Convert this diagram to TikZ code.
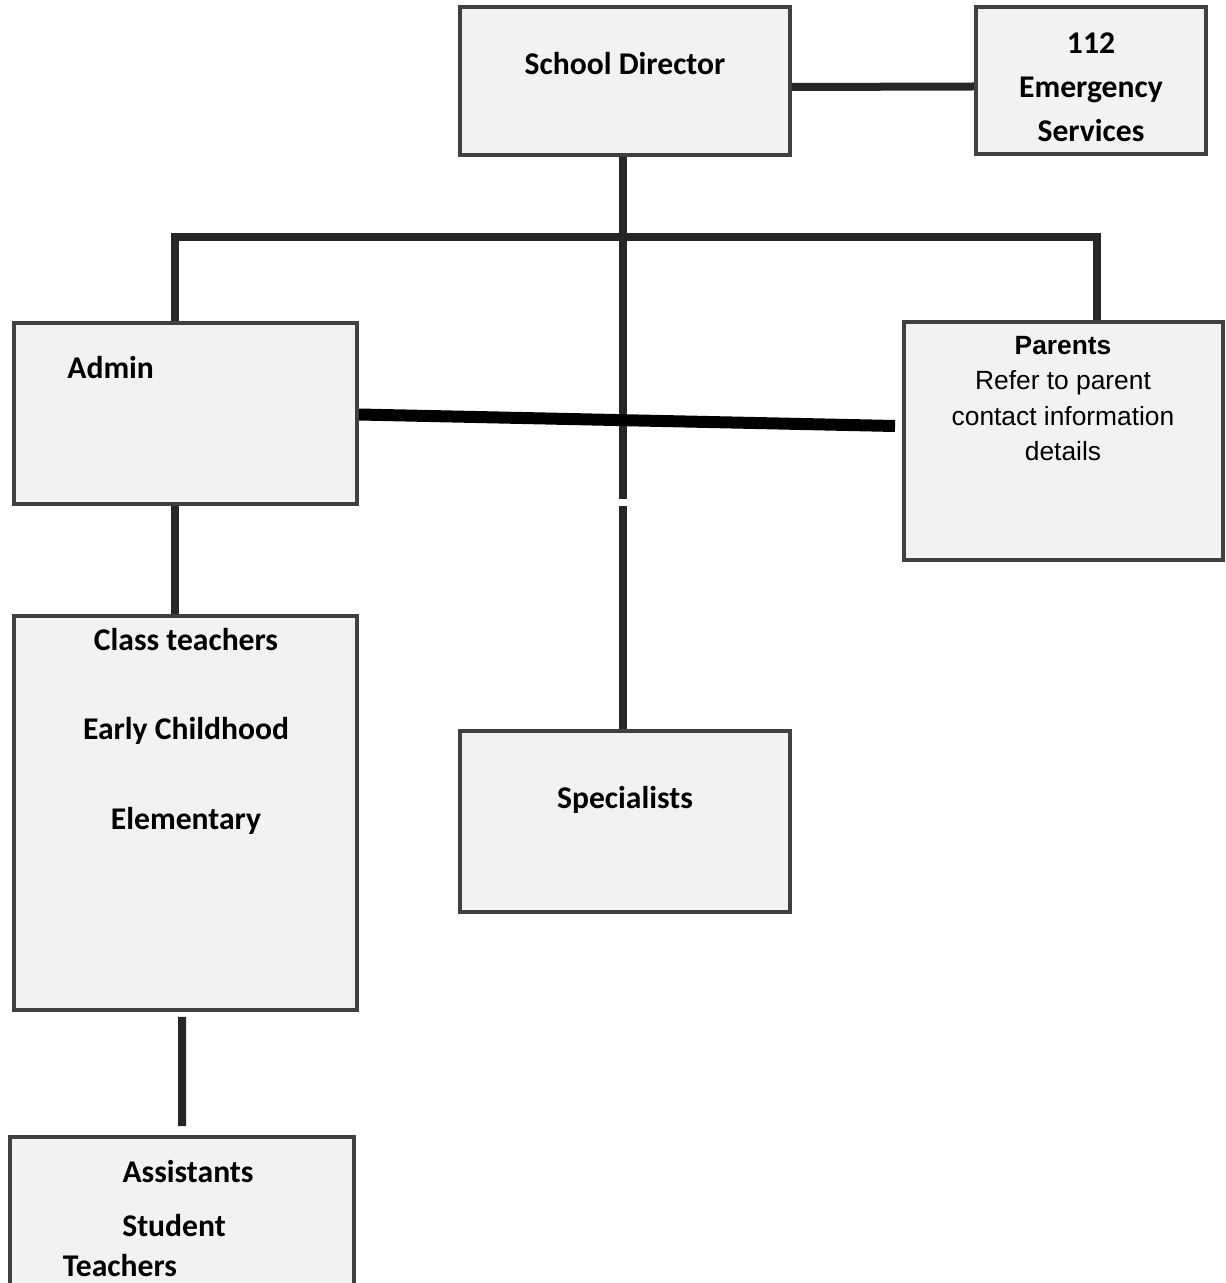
\documentclass[tikz,border=0pt]{standalone}
\usepackage{fontspec}
\setmainfont{Carlito}
\newfontfamily\arialfont{Liberation Sans}
\usepackage{tikz}
\usetikzlibrary{positioning, calc, backgrounds}
\definecolor{boxfill}{HTML}{F2F2F2}
\definecolor{boxline}{HTML}{404040}
\definecolor{linkgray}{HTML}{262626}

\begin{document}
\begin{tikzpicture}[x=0.02cm, y=-0.02cm,
  unit/.style={rectangle, fill=boxfill, draw=boxline, line width=0.08cm,
    inner sep=0pt},
  label/.style={font=\fontsize{18}{25}\selectfont\bfseries, align=center, inner sep=0pt},
  link/.style={draw=linkgray, line width=0.16cm},
  hotline/.style={draw=black, line width=0.24cm}
]
  \useasboundingbox (0,0) rectangle (1225,1283);

  % boxes
  \node[unit, minimum width=6.6cm, minimum height=2.96cm] (dir) at (625,81) {};
  \node[unit, minimum width=4.6cm, minimum height=2.94cm] (emg) at (1091,80.5) {};
  \node[unit, minimum width=6.86cm, minimum height=3.62cm] (adm) at (185.5,413.5) {};
  \node[unit, minimum width=6.38cm, minimum height=4.76cm] (par) at (1063.5,441) {};
  \node[unit, minimum width=6.86cm, minimum height=7.88cm] (cls) at (185.5,813) {};
  \node[unit, minimum width=6.6cm, minimum height=3.62cm] (spec) at (625,821.5) {};
  \node[unit, minimum width=6.88cm, minimum height=3.26cm] (ast) at (182,1218.5) {};

  % connectors
  \coordinate (gapA) at (623,499);
  \coordinate (gapB) at (623,506);
  \coordinate (busL) at (175,237);
  \coordinate (busR) at (1097,237);
  \begin{scope}[on background layer]
    \draw[link] ([yshift=-0.12cm]dir.east) -- ([yshift=-0.12cm]emg.west);
    \draw[link] (dir.south -| gapA) -- (gapA);
    \draw[link] (gapB) -- (spec.north -| gapB);
    \draw[link] (adm.north -| busL) -- (busL) -- (busR) -- (par.north -| busR);
    \draw[link] ([xshift=-0.21cm]adm.south) -- ([xshift=-0.21cm]cls.north);
  \end{scope}
  \draw[hotline] ([yshift=-0.02cm]adm.east) -- ([xshift=-0.14cm, yshift=0.3cm]par.west);
  \draw[link] ([xshift=-0.07cm, yshift=-0.1cm]cls.south) -- ([yshift=0.18cm]ast.north);

  % texts
  \node[label] (dirtxt) at (625,64) {School Director};
  \node[label] (emgtxt) at (1091,87) {112\\Emergency\\Services};
  \node[label, anchor=west] (admtxt) at (67,368) {Admin};
  \node[align=center, inner sep=0pt, font=\arialfont\fontsize{15}{20.1}\selectfont]
    (partxt) at (1063,398.5) {\textbf{Parents}\\Refer to parent\\contact information\\details};
  \node[label, font=\fontsize{18}{51}\selectfont\bfseries] (clstxt) at (186,731)
    {Class teachers\\Early Childhood\\Elementary};
  \node[label] (spectxt) at (625,800) {Specialists};
  \node[label] (asttxtA) at (188,1172) {Assistants};
  \node[label] (asttxtB) at (174,1226) {Student};
  \node[label] (asttxtC) at (120,1266) {Teachers};
\end{tikzpicture}
\end{document}
